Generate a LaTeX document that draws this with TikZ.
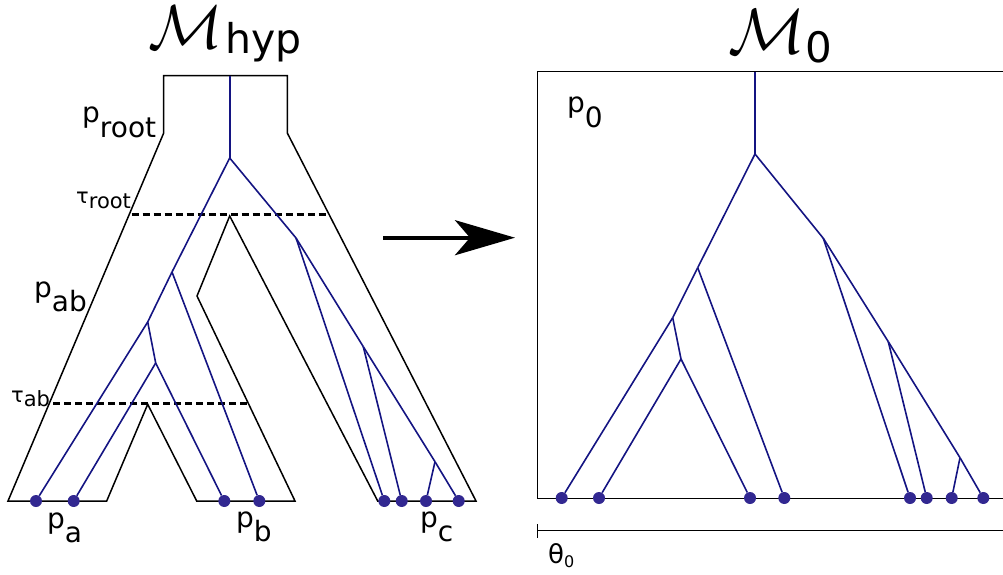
\documentclass[tikz,border=0pt]{standalone}
\usepackage{fontspec}
\setmainfont{DejaVu Sans}
\usetikzlibrary{arrows.meta}
\definecolor{genecol}{RGB}{20,20,130}
\definecolor{dotcol}{RGB}{50,40,145}
\begin{document}
\begin{tikzpicture}[x=1pt,y=-1pt,
   popline/.style={line width=1.5pt,line join=miter},
   geneline/.style={draw=genecol,line width=1.6pt},
   splitline/.style={line width=3pt,dash pattern=on 7pt off 4pt},
   leaf/.style={circle,fill=dotcol,inner sep=0pt,minimum size=12pt},
   plabel/.style={inner sep=0pt,anchor=base west,font=\fontsize{28}{30}\selectfont},
   tlabel/.style={inner sep=0pt,anchor=base west,font=\fontsize{21}{23}\selectfont}]
   \useasboundingbox (0,0) rectangle (1003,575);
   % titles
   \node[anchor=base,inner sep=0pt] (mhyp) at (186,49) {\scalebox{6.2}{$\mathcal{M}$}};
   \node[anchor=base west,inner sep=0pt,font=\fontsize{41}{41}\selectfont] (hyp) at (225,54) {hyp};
   \node[anchor=base,inner sep=0pt] (mzero) at (767,54) {\scalebox{6.4}{$\mathcal{M}$}};
   \node[anchor=base west,inner sep=0pt,font=\fontsize{42}{42}\selectfont] (zero) at (805,63) {0};
   % population tree
   \draw[popline] (163.7,133) -- (163.7,75.7) -- (287.3,75.7) -- (287.3,133)
      -- (476,501) -- (377.7,501) -- (229.7,216) -- (197,296) -- (295,501)
      -- (196.7,501) -- (147.7,404.3) -- (106.7,501) -- (8,501) -- cycle;
   \draw[splitline] (131.7,214) -- (328,214);
   \draw[splitline] (53.3,403.3) -- (246.7,403.3);
   % model box
   \draw[popline] (1003,71.7) -- (537.7,71.7) -- (537.7,498.3) -- (1003,498.3);
   \draw[popline] (537.7,524.3) -- (537.7,538.3);
   \draw[popline] (537.7,530.7) -- (1003,530.7);
   % labels
   \node[plabel] (proot) at (82,123) {p\raisebox{-14pt}{root}};
   \node[plabel] (pab) at (34,297) {p\raisebox{-14pt}{ab}};
   \node[plabel] (pa) at (47,528) {p\raisebox{-14pt}{a}};
   \node[plabel] (pb) at (236,527) {p\raisebox{-14pt}{b}};
   \node[plabel] (pc) at (420,527) {p\raisebox{-14pt}{c}};
   \node[plabel] (pzero) at (567,113) {p\raisebox{-15pt}{0}};
   \node[tlabel] (troot) at (76,203) {τ\raisebox{-5pt}{root}};
   \node[tlabel] (tab) at (11,402) {τ\raisebox{-4pt}{ab}};
   \node[inner sep=0pt,anchor=base west,font=\fontsize{26}{26}\selectfont] (theta) at (548,563)
      {θ\raisebox{-4pt}{\fontsize{16}{16}\selectfont 0}};
   % arrow
   \coordinate (arrs) at (383,237.7);
   \coordinate (arre) at (515,237.7);
   \draw[line width=4pt,-{Stealth[length=60pt,width=35pt,inset=15pt]}] (arrs) -- (arre);
   % gene tree in M_hyp
   \foreach \n/\x in {a1/36,a2/73.7,b1/224.3,b2/259.3,c1/384.3,c2/401.7,c3/426,c4/458.7}
     \node[leaf] (\n) at (\x,501) {};
   \coordinate (lt) at (229.7,75.7);
   \coordinate (lr) at (229.7,158);
   \coordinate (lab) at (172,272);
   \coordinate (la1) at (147.7,322);
   \coordinate (la2) at (155.7,363);
   \coordinate (lc) at (296,238);
   \coordinate (lc1) at (363.3,346.7);
   \coordinate (lc2) at (435,461.7);
   \foreach \u/\v in {lt/lr,lr/lab,lab/la1,la1/a1,la1/la2,la2/a2,la2/b1,lab/b2,
                      lr/lc,lc/c1,lc/lc1,lc1/c2,lc1/lc2,lc2/c3,lc2/c4}
     \draw[geneline] (\u) -- (\v);
   % gene tree in M_0
   \foreach \n/\x in {ra1/561.7,ra2/599,rb1/750,rb2/784.3,rc1/910,rc2/926.7,rc3/951.7,rc4/983.3}
     \node[leaf] (\n) at (\x,498) {};
   \coordinate (rt) at (755,71.7);
   \coordinate (rr) at (755,154);
   \coordinate (rab) at (697.7,267.7);
   \coordinate (rx1) at (672.7,317.7);
   \coordinate (rx2) at (681,359);
   \coordinate (rc) at (823.3,238.3);
   \coordinate (ry1) at (888.3,341.7);
   \coordinate (ry2) at (960,457.7);
   \foreach \u/\v in {rt/rr,rr/rab,rab/rx1,rx1/ra1,rx1/rx2,rx2/ra2,rx2/rb1,rab/rb2,
                      rr/rc,rc/rc1,rc/ry1,ry1/rc2,ry1/ry2,ry2/rc3,ry2/rc4}
     \draw[geneline] (\u) -- (\v);
\end{tikzpicture}
\end{document}
